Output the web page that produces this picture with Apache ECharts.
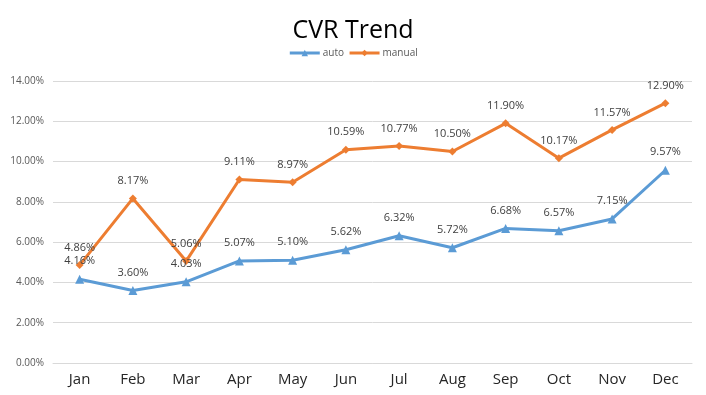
<!DOCTYPE html>
<html><head><meta charset="utf-8">
<script src="https://cdn.jsdelivr.net/npm/echarts@6/dist/echarts.min.js"></script>
<style>html,body{margin:0;padding:0;background:#fff}#c{width:706px;height:395px}</style>
</head><body><div id="c"></div>
<script>
var months = ['Jan','Feb','Mar','Apr','May','Jun','Jul','Aug','Sep','Oct','Nov','Dec'];
var autoVals = [4.16, 3.60, 4.03, 5.07, 5.10, 5.62, 6.32, 5.72, 6.68, 6.57, 7.15, 9.57];
var manualVals = [4.86, 8.17, 5.06, 9.11, 8.97, 10.59, 10.77, 10.50, 11.90, 10.17, 11.57, 12.90];
var yTicks = [0, 2, 4, 6, 8, 10, 12, 14];

var chart = echarts.init(document.getElementById('c'));
var font = '"Open Sans", "DejaVu Sans", sans-serif';
function lbl() {
  return {show: true, position: 'top', distance: 8, color: '#404040', fontSize: 11, fontFamily: font,
    formatter: function (p) { return p.value.toFixed(2) + '%'; }};
}
chart.setOption({
  animation: false,
  title: {text: 'CVR Trend', left: 'center', top: 13,
    textStyle: {fontSize: 25, fontWeight: 'normal', color: '#000', fontFamily: font}},
  legend: {top: 43, left: 'center', itemWidth: 30, itemHeight: 8, itemGap: 4,
    lineStyle: {width: 3},
    textStyle: {fontSize: 10, color: '#595959', fontFamily: font, padding: [0, 0, 0, -2]},
    data: ['auto', 'manual']},
  grid: {left: 53, right: 14, top: 81, bottom: 32, containLabel: false},
  xAxis: {type: 'category', data: months, boundaryGap: true,
    axisLine: {show: true, lineStyle: {color: '#d9d9d9'}},
    axisTick: {show: false},
    axisLabel: {fontSize: 15, color: '#262626', margin: 9, fontFamily: font}},
  yAxis: {type: 'value', min: yTicks[0], max: yTicks[yTicks.length - 1], interval: 2,
    axisLine: {show: false}, axisTick: {show: false},
    splitLine: {lineStyle: {color: '#d9d9d9'}},
    axisLabel: {fontSize: 10, color: '#595959', margin: 9, fontFamily: font,
      formatter: function (v) { return v.toFixed(2) + '%'; }}},
  series: [
    {name: 'auto', type: 'line', data: autoVals, symbol: 'triangle', symbolSize: 9,
      lineStyle: {width: 3, color: '#5B9BD5'}, itemStyle: {color: '#5B9BD5'}, label: lbl()},
    {name: 'manual', type: 'line', data: manualVals, symbol: 'diamond', symbolSize: 8,
      lineStyle: {width: 3, color: '#ED7D31'}, itemStyle: {color: '#ED7D31'}, label: lbl()}
  ]
});
</script></body></html>
